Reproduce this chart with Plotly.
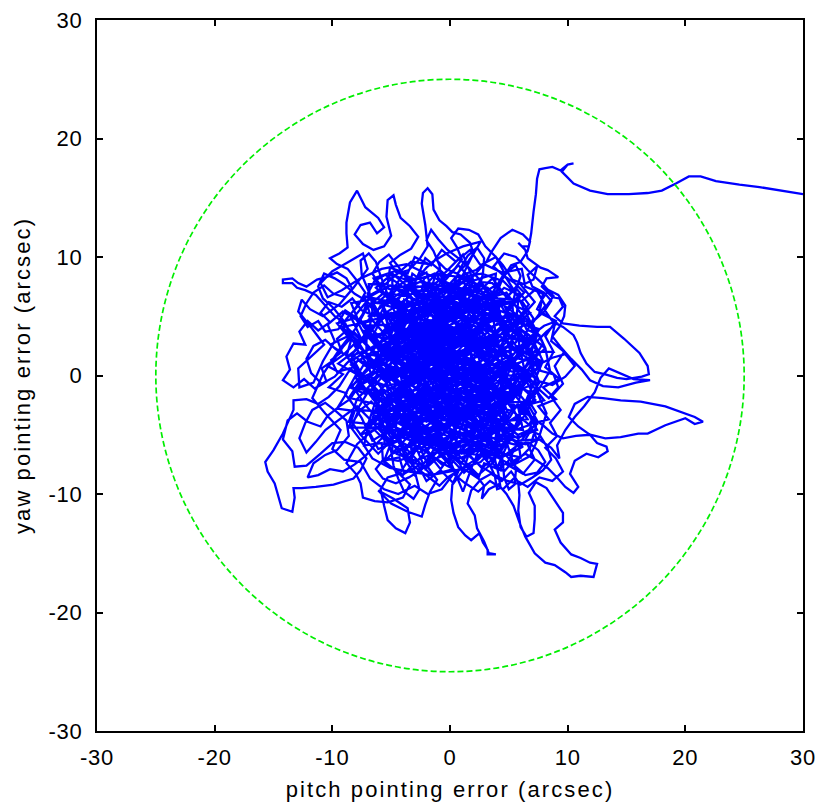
import plotly.graph_objects as go

# Boundary circle radius (arcsec)
limit_radius = 25

# Axis ticks
tick_values = [-30, -20, -10, 0, 10, 20, 30]
tick_labels = ["-30", "-20", "-10", "0", "10", "20", "30"]

# Pointing-error trajectory, in pieces (pitch, yaw) in arcsec
seg_tail = [(30.0,15.3),(28.2,15.6),(26.3,15.9),(24.6,16.1),(22.6,16.4),(21.3,16.8),(20.3,16.8),(19.2,16.2),(18.0,15.6),(16.8,15.4),(15.2,15.3),(13.4,15.3),(11.9,15.6),(10.5,16.2),(9.5,17.2),(10.0,17.8),(10.5,17.9),(10.0,17.8),(9.4,17.3),(8.7,17.6),(8.1,17.5),(7.6,17.4),(7.4,16.6),(7.3,15.3),(7.1,13.8),(6.9,12.0),(6.7,10.9),(6.1,10.9),(5.8,11.2),(6.4,10.6),(6.6,9.9),(7.2,9.5),(7.7,9.1),(8.3,8.9),(9.2,8.3),(8.2,8.2),(7.8,7.5),(8.7,6.6),(9.3,6.5),(9.6,5.8),(8.9,5.0),(9.6,4.4),(11.0,4.2),(12.5,4.1),(13.6,4.1),(14.8,3.1),(16.1,1.9),(16.8,0.8),(16.9,0.1),(16.3,-0.1),(15.0,-0.3),(14.2,-0.2),(13.2,0.1),(12.3,0.3),(11.6,1.0),(11.1,1.9),(10.8,2.8),(10.5,3.4),(9.6,4.1),(8.8,4.5),(8.0,4.2),(7.2,3.6)]

seg_core1 = [(6.3,2.8),(5.1,3.2),(4.4,2.4),(3.2,2.9),(2.6,4.0),(1.5,3.6),(0.9,2.5),(-0.3,2.9),(-1.1,3.9),(-2.2,3.4),(-2.6,2.2),(-3.7,2.6),(-4.1,3.8),(-5.0,4.5),(-5.8,3.6),(-5.3,2.5),(-6.1,1.6),(-7.2,1.9),(-7.9,3.0),(-8.8,3.8),(-9.6,3.1),(-9.2,2.0),(-10.1,1.3),(-9.6,0.3),(-8.5,0.6),(-7.6,-0.2),(-6.4,0.3),(-5.5,-0.5),(-4.4,-0.1),(-3.5,0.8),(-2.4,0.4),(-1.3,1.1),(-0.2,0.6),(0.7,1.5),(1.9,1.1),(2.4,0.0),(3.5,-0.4),(4.2,0.6),(5.4,0.3),(6.0,-0.8),(5.2,-1.8),(4.0,-1.5),(3.1,-2.4),(1.9,-2.0),(1.1,-1.0),(-0.1,-1.4),(-0.8,-2.5),(-2.0,-2.2),(-2.8,-1.2),(-4.0,-1.6),(-4.6,-2.8),(-5.8,-3.1),(-6.7,-2.2),(-7.6,-2.9),(-8.3,-4.0),(-7.6,-5.0),(-6.4,-4.6),(-5.5,-5.5),(-4.3,-5.1),(-3.6,-4.0),(-2.4,-4.3),(-1.8,-5.4),(-0.6,-5.0),(0.0,-3.9),(1.2,-4.2),(1.9,-5.3),(3.1,-5.0),(3.6,-3.8),(4.8,-3.6),(5.5,-4.6),(6.7,-4.2),(7.3,-3.1),(6.6,-2.0),(7.5,-1.1),(8.4,-1.9),(9.2,-1.0),(8.8,0.1),(7.7,0.4),(7.2,1.5),(8.1,2.3),(7.6,3.4),(6.5,3.9),(6.0,5.0),(4.9,5.3),(4.4,6.4),(3.2,6.1),(2.6,7.2),(1.4,6.9),(0.9,5.8),(-0.3,5.4),(-0.9,6.5),(-2.1,6.8),(-2.7,5.7),(-3.9,5.4),(-4.6,6.4),(-5.8,6.1),(-6.4,5.0),(-7.5,5.5),(-8.3,6.5),(-9.2,5.8),(-10.3,6.2),(-11.0,5.3),(-10.2,4.5),(-11.2,3.8),(-12.1,4.6),(-12.8,3.7),(-12.3,2.6),(-13.3,2.7),(-13.9,1.6),(-13.6,0.5),(-14.2,-0.4),(-13.3,-1.0),(-12.4,-0.3),(-11.5,-1.1),(-10.5,-0.5),(-10.9,0.6),(-9.9,1.3)]

seg_top = [(-9.1,2.4),(-8.4,3.2),(-8.9,4.4),(-9.8,5.0),(-10.6,5.9),(-11.4,6.8),(-12.3,7.2),(-13.0,7.4),(-13.4,7.8),(-14.2,7.8),(-14.2,8.1),(-13.4,8.2),(-12.9,7.8),(-12.2,7.5),(-11.3,8.1),(-10.5,8.3),(-9.6,8.7),(-8.8,8.2),(-8.3,7.3),(-8.9,6.6),(-9.9,6.9),(-10.7,7.6),(-11.6,7.0),(-12.2,6.1),(-12.7,5.0),(-12.1,4.1),(-11.2,4.6),(-10.6,3.7),(-9.5,3.9),(-8.7,4.9),(-7.8,5.9),(-7.2,7.0),(-7.9,8.0),(-8.7,9.0),(-9.6,9.4),(-10.2,9.9),(-9.4,10.3),(-8.7,10.8),(-8.8,12.0),(-8.8,12.9),(-8.5,14.6),(-7.9,15.6),(-7.2,14.2),(-6.1,13.3),(-5.6,12.5),(-6.2,12.0),(-6.8,12.9),(-7.6,12.7),(-8.1,11.9),(-7.4,11.1),(-6.5,10.6),(-5.6,10.9),(-5.0,11.8),(-5.4,13.4),(-5.3,14.8),(-4.8,15.2),(-4.6,14.4),(-4.2,13.3),(-3.4,12.6),(-2.7,11.7),(-3.3,10.7),(-4.2,10.2),(-5.1,9.5),(-4.5,8.6),(-3.5,8.9),(-2.6,9.8),(-1.9,10.9),(-2.1,12.7),(-2.4,14.5),(-2.3,15.4),(-1.9,15.8),(-1.5,15.3),(-1.4,14.0),(-0.9,13.1),(-0.3,12.6),(0.2,12.1),(0.9,11.9),(1.7,11.2),(2.0,10.3),(1.4,9.4),(0.6,8.6),(-0.4,9.0),(-1.2,9.8),(-2.0,9.1),(-2.8,8.2),(-3.9,7.9),(-4.9,7.2),(-5.9,7.6),(-6.6,8.6),(-6.0,9.6),(-5.2,10.2),(-4.4,9.2),(-3.6,8.0),(-2.9,7.0),(-1.8,7.4),(-0.8,8.1),(0.3,7.6),(1.1,8.5),(2.2,8.9),(3.1,9.6),(3.5,10.4),(4.3,11.6),(5.3,12.3),(6.2,11.9),(6.8,11.3),(6.6,10.5),(6.0,9.6),(5.2,9.3),(4.6,8.4),(5.5,7.8),(6.3,7.0),(5.6,6.2),(4.5,6.9),(3.6,7.8),(2.5,7.9),(1.8,7.0),(0.8,6.6),(-0.1,7.2),(-1.0,6.4),(-1.6,5.3),(-2.7,4.8),(-3.4,3.6),(-2.9,2.6),(-1.8,2.8),(-0.8,2.0),(0.4,2.6),(1.1,3.7),(2.2,4.5),(3.4,4.2),(4.0,3.1),(3.5,1.8),(2.3,1.7),(1.3,0.8),(0.2,1.2),(-0.6,0.2),(-1.7,0.5),(-2.5,1.5),(-3.5,1.9),(-4.4,1.0),(-5.4,1.4),(-6.0,2.6),(-6.9,3.4),(-6.3,4.3),(-5.2,5.2),(-4.1,5.0),(-3.0,4.6)]

seg_bottom = [(-3.8,3.0),(-4.9,2.2),(-5.9,1.0),(-6.9,0.6),(-7.8,1.3),(-8.7,0.2),(-9.4,-0.9),(-10.3,-1.8),(-11.2,-2.4),(-12.2,-2.0),(-13.3,-2.1),(-13.3,-2.9),(-14.2,-4.9),(-15.0,-6.3),(-15.7,-7.3),(-15.5,-8.1),(-14.9,-9.1),(-14.6,-10.2),(-14.3,-11.2),(-13.4,-11.5),(-13.2,-10.3),(-13.3,-9.5),(-12.6,-9.5),(-11.4,-9.4),(-9.9,-9.2),(-8.2,-8.7),(-7.6,-8.0),(-7.1,-7.0),(-7.8,-6.1),(-8.9,-5.6),(-10.0,-5.7),(-11.0,-6.6),(-12.2,-7.6),(-13.2,-7.7),(-13.4,-6.4),(-14.2,-5.4),(-13.8,-3.8),(-13.0,-3.2),(-12.1,-3.9),(-11.0,-4.3),(-10.4,-3.4),(-9.4,-2.6),(-8.5,-2.0),(-7.9,-1.1),(-6.8,-1.3),(-5.9,-2.1),(-5.1,-3.2),(-5.8,-4.2),(-6.9,-4.9),(-7.9,-5.8),(-8.8,-7.4),(-8.0,-8.3),(-7.6,-9.1),(-7.4,-10.3),(-6.4,-10.6),(-5.3,-10.7),(-4.0,-10.3),(-3.4,-9.2),(-4.3,-8.3),(-5.3,-8.6),(-5.9,-9.6),(-5.6,-11.0),(-5.3,-12.2),(-4.6,-12.9),(-3.8,-13.3),(-3.4,-12.4),(-3.6,-11.2),(-4.8,-10.4),(-6.1,-9.7),(-5.0,-10.8),(-3.6,-11.5),(-2.4,-11.9),(-2.1,-10.9),(-1.7,-9.8),(-1.1,-8.8),(-1.9,-7.7),(-3.0,-7.4),(-4.0,-6.7),(-3.4,-5.6),(-2.4,-6.2),(-1.3,-6.9),(-0.3,-7.6),(0.7,-8.1),(0.2,-9.2),(0.1,-10.5),(0.3,-11.6),(0.7,-12.8),(1.3,-13.5),(1.8,-13.9),(2.5,-13.3),(2.8,-14.1),(3.2,-14.7),(3.2,-15.1),(3.9,-15.1),(3.3,-15.0),(2.9,-14.0),(2.3,-12.9),(2.1,-11.8),(1.5,-10.8),(1.8,-9.7),(2.6,-8.8),(3.5,-8.3),(4.4,-8.9),(5.2,-8.1),(5.8,-9.0),(5.9,-10.1),(5.8,-11.4),(6.0,-12.8),(6.5,-13.6),(7.1,-13.3),(7.2,-12.1),(7.2,-11.0),(6.7,-9.9),(7.3,-9.0),(8.2,-9.5),(8.9,-10.5),(9.6,-11.6),(9.6,-12.4),(8.9,-13.0),(9.4,-14.1),(10.3,-15.1),(11.1,-15.4),(11.9,-15.8),(12.5,-15.9),(12.2,-17.0),(11.1,-16.9),(10.3,-17.0),(9.8,-16.6),(8.9,-16.0),(8.1,-15.8),(7.2,-15.0),(6.4,-13.6),(5.9,-12.4),(5.4,-11.0),(4.8,-10.0),(4.1,-9.2),(3.3,-9.6),(2.7,-10.4),(2.9,-9.3),(2.2,-8.4),(1.3,-7.6),(0.4,-6.9),(-0.5,-6.1),(-1.5,-5.3),(-2.5,-4.6),(-3.4,-3.6),(-2.6,-2.7),(-1.5,-3.2),(-0.5,-2.6)]

seg_right = [(0.6,-3.2),(1.7,-2.7),(2.8,-3.3),(3.9,-2.6),(4.9,-2.1),(5.9,-2.8),(6.9,-3.5),(7.9,-4.2),(8.7,-4.9),(9.6,-5.3),(10.7,-5.1),(11.9,-5.0),(13.2,-5.3),(14.5,-5.2),(16.0,-4.9),(16.8,-4.9),(18.3,-4.2),(20.0,-3.6),(20.8,-4.1),(21.5,-3.9),(20.8,-3.5),(19.5,-3.0),(18.3,-2.6),(16.2,-2.2),(14.5,-2.1),(13.0,-1.9),(11.7,-1.8),(10.6,-2.4),(10.1,-3.5),(10.9,-4.3),(11.9,-5.0),(12.5,-5.7),(13.3,-6.0),(13.4,-6.4),(12.6,-6.9),(11.6,-6.6),(10.6,-7.2),(10.2,-8.3),(10.9,-9.4),(10.5,-9.9),(9.8,-9.4),(9.1,-8.6),(8.3,-7.8),(7.4,-7.2),(6.4,-6.6),(5.4,-7.2),(4.6,-8.1),(3.7,-7.5),(3.2,-6.6),(4.2,-5.9),(5.3,-5.4),(6.4,-5.8),(7.6,-5.4),(8.6,-6.1),(9.3,-7.0),(9.1,-5.9),(9.8,-4.6),(10.6,-3.5),(11.4,-2.6),(12.3,-1.4),(12.8,-0.2),(13.5,0.6),(14.6,0.1),(15.6,-0.3),(17.0,-0.4),(15.8,-0.6),(14.3,-1.0),(13.0,-0.9),(11.9,-0.4),(11.2,0.5),(10.3,1.4),(9.4,2.4),(8.7,3.3),(9.3,4.1),(9.7,5.0),(9.8,5.9),(9.2,6.8),(8.4,7.2),(7.8,6.4),(7.4,5.6),(8.3,5.0),(9.1,4.4),(8.2,3.7),(7.3,2.8),(6.5,1.8),(5.8,2.5),(5.0,2.1),(5.6,1.0),(6.6,0.3),(7.6,-0.5),(8.7,-0.8),(9.8,-0.1),(10.6,0.8),(9.8,1.8),(8.7,1.5),(7.7,1.0),(6.8,2.0)]

seg_core2 = [(6.0,3.1),(5.0,4.0),(4.1,4.9),(3.0,5.3),(2.2,6.1),(1.1,5.3),(0.2,4.4),(-0.9,3.6),(-1.9,2.6),(-2.7,1.5),(-3.2,0.3),(-2.5,-0.8),(-1.4,-0.3),(-0.4,-0.9),(0.6,-0.2),(1.6,0.5),(2.7,0.4),(3.3,1.5),(2.9,2.7),(1.9,3.1),(0.8,3.4),(-0.3,3.9),(-1.4,4.8),(-2.0,5.9),(-3.1,6.4),(-3.8,7.3),(-4.6,7.9),(-5.5,8.5),(-6.4,8.0),(-7.0,6.9),(-6.2,6.1),(-5.3,6.9),(-4.4,6.3),(-3.6,5.1),(-3.0,4.0),(-2.3,3.0),(-1.2,2.3),(0.0,1.9),(1.0,1.0),(1.6,-0.2),(1.1,-1.5),(0.0,-2.1),(-1.1,-1.8),(-2.0,-0.9),(-3.1,-0.3),(-4.2,0.3),(-5.2,0.9),(-6.3,1.2),(-7.4,0.8),(-8.0,-0.2),(-7.3,-1.3),(-6.2,-1.8),(-5.1,-1.1),(-4.0,-0.6),(-2.9,0.6),(-1.9,1.7),(-0.8,2.9),(0.3,3.7),(1.2,4.7),(0.4,5.7),(-0.6,4.8),(-1.6,3.8),(-2.6,2.9),(-3.4,1.8),(-4.3,2.4),(-5.1,3.3),(-4.6,4.3),(-3.5,4.5),(-2.4,4.0),(-1.5,3.1),(-0.7,1.9),(0.1,0.8),(0.9,-0.2),(2.0,-0.8),(3.1,-1.2),(4.1,-2.0),(4.6,-3.0),(3.7,-3.6),(2.6,-3.1),(1.6,-2.5),(0.6,-2.9),(-0.4,-3.5),(-1.4,-3.1),(-2.3,-2.4),(-3.3,-1.9),(-4.3,-2.5),(-5.1,-3.6),(-4.5,-4.6),(-3.4,-4.9),(-2.6,-5.8),(-3.2,-6.8),(-4.4,-7.2),(-5.6,-7.0),(-6.3,-7.9),(-5.7,-8.7),(-4.6,-9.1),(-3.5,-8.6),(-2.5,-8.0),(-1.6,-7.2),(-0.5,-6.7),(0.6,-6.1),(1.7,-5.6),(2.6,-6.4),(3.6,-7.0),(4.7,-6.7),(5.6,-6.0),(6.6,-5.6),(7.5,-6.3),(8.1,-7.3),(7.4,-8.2),(6.4,-8.4),(5.6,-7.7),(4.9,-6.9),(3.9,-6.0),(3.0,-5.2),(2.1,-4.3),(1.0,-3.7),(-0.1,-3.1),(-1.0,-2.2),(-1.9,-1.3),(-2.8,-0.3),(-3.6,0.7),(-4.5,1.6),(-5.3,2.7),(-6.2,3.5),(-7.1,4.2),(-8.0,4.9),(-8.9,5.5),(-9.4,4.6),(-8.6,3.9),(-7.8,3.2),(-6.9,2.4),(-6.0,1.7),(-5.0,0.2),(-4.1,-0.8),(-3.2,-1.7),(-2.3,-2.8),(-1.4,-3.8),(-0.5,-4.7),(0.5,-5.2),(1.6,-4.8),(2.4,-3.9),(3.3,-3.1),(4.2,-2.4),(5.1,-1.4),(5.9,-0.2),(6.6,1.1),(7.3,2.2),(6.7,3.0),(5.7,3.5)]

seg_core3 = [(4.7,4.4),(3.9,5.7),(3.3,7.0),(2.4,8.2),(1.6,9.1),(0.7,9.9),(-0.2,10.6),(-1.0,11.5),(-1.6,12.3),(-2.0,11.4),(-1.4,10.5),(-0.9,9.3),(-0.7,8.1),(-1.2,7.1),(-1.5,5.9),(-1.1,4.7),(-0.5,3.5),(-0.1,2.3),(0.5,1.1),(0.9,-0.1),(1.2,-1.3),(1.6,-2.6),(2.2,-3.6),(2.9,-4.6),(3.4,-5.8),(3.8,-7.0),(4.1,-8.2),(4.3,-9.5),(4.0,-9.6),(3.8,-8.4),(3.3,-7.4),(2.6,-6.6),(1.9,-7.6),(1.5,-8.7),(1.1,-9.8),(0.6,-8.6),(0.1,-7.4),(-0.4,-6.2),(-0.9,-5.0),(-1.4,-3.9),(-1.9,-2.7),(-2.4,-1.5),(-2.9,-0.3),(-3.3,1.0),(-3.7,2.2),(-4.1,3.4),(-4.4,4.6),(-4.9,5.8),(-5.4,7.1),(-5.9,8.4),(-6.3,9.6),(-6.9,10.3),(-7.6,9.7),(-7.5,8.5),(-7.1,7.6),(-6.7,6.6),(-6.6,5.4),(-6.8,4.2),(-7.1,3.1),(-7.1,1.9),(-6.9,0.8),(-6.6,-0.4),(-6.4,-1.6),(-6.1,-2.8),(-5.8,-4.0),(-5.4,-5.2),(-5.0,-6.4),(-4.8,-7.6),(-4.4,-8.7),(-3.9,-9.8),(-3.1,-10.4),(-2.6,-9.6),(-2.9,-8.5),(-3.2,-7.3),(-3.3,-6.1),(-2.9,-4.9),(-2.6,-3.7),(-2.1,-2.5),(-1.6,-1.3),(-1.2,0.0),(-0.9,1.3),(-0.7,2.7),(-0.5,4.0),(-0.3,5.3),(0.0,6.7),(0.4,7.9),(0.9,9.1),(1.5,10.1),(2.3,10.8),(2.9,9.9),(2.8,8.6),(2.5,7.4),(2.0,6.2),(1.5,5.0),(1.4,3.8),(1.8,2.6),(2.4,1.6),(2.8,0.4),(3.0,-0.9),(3.3,-2.1),(3.7,-3.3),(4.3,-4.4),(4.8,-5.6),(5.2,-6.8),(5.6,-8.0),(5.5,-9.2),(5.0,-9.6),(4.6,-8.6),(4.5,-7.4),(4.3,-6.1),(4.0,-4.9),(3.9,-3.6),(4.0,-2.4),(4.3,-1.1),(4.5,0.2),(4.4,1.5),(4.1,2.8),(3.8,4.0),(3.6,5.3),(3.8,6.6),(4.2,7.8),(4.9,8.8),(5.6,9.3),(6.0,8.4),(5.6,7.2),(5.3,6.0),(5.4,4.8),(5.7,3.6)]

seg_core4 = [(6.0,2.0),(6.3,0.6),(6.2,-0.9),(5.8,-2.3),(5.1,-3.5),(4.1,-4.6),(2.9,-5.4),(1.6,-5.9),(0.2,-6.0),(-1.2,-5.8),(-2.5,-5.2),(-3.7,-4.3),(-4.6,-3.1),(-5.2,-1.7),(-5.5,-0.2),(-5.4,1.3),(-5.0,2.8),(-4.3,4.1),(-3.3,5.2),(-2.1,6.0),(-0.7,6.4),(0.8,6.5),(2.2,6.1),(3.5,5.4),(4.5,4.3),(5.3,3.0),(5.1,1.6),(4.7,0.3),(4.0,-1.0),(3.0,-2.2),(1.8,-3.1),(0.4,-3.7),(-1.0,-3.8),(-2.3,-3.3),(-3.4,-2.4),(-4.0,-1.2),(-4.2,0.2),(-4.0,1.6),(-3.4,2.9),(-2.4,3.9),(-1.2,4.5),(0.1,4.6),(1.4,4.2),(2.5,3.4),(3.2,2.3),(3.4,1.0),(3.1,-0.2),(2.3,-1.2),(1.3,-1.9),(0.1,-2.2),(-1.0,-1.9),(-1.9,-1.1),(-2.5,0.0),(-2.6,1.2),(-2.2,2.3),(-1.4,3.1),(-0.4,3.4),(0.6,3.2),(1.4,2.6),(1.8,1.7),(1.7,0.7),(1.2,-0.1),(0.4,-0.6),(-0.5,-0.5),(-1.1,0.1),(-1.4,1.0),(-1.0,1.9),(-0.2,2.3),(0.6,1.8),(0.7,0.8),(-0.2,0.7)]

seg_core5 = [(0.2,1.6),(1.3,2.0),(2.4,2.8),(3.6,3.3),(4.8,3.6),(6.0,4.1),(7.1,4.6),(8.0,5.4),(8.6,6.3),(8.0,7.0),(7.0,7.5),(6.6,8.5),(7.4,9.2),(7.1,8.1),(6.3,7.7),(5.3,8.1),(4.5,9.3),(3.9,10.0),(3.0,10.9),(2.4,11.9),(1.6,12.3),(0.7,12.4),(0.1,11.6),(0.6,10.8),(1.0,9.8),(0.4,9.0),(-0.4,8.3),(-1.3,8.6),(-2.2,8.2),(-2.4,7.2),(-1.7,6.4),(-0.8,5.8),(0.2,5.2),(1.2,5.8),(2.1,5.1),(3.0,4.3),(3.9,3.6),(4.9,2.7),(5.9,1.7),(5.0,0.9),(4.0,0.2),(2.9,-0.4),(1.8,-0.9),(0.6,-1.2),(-0.8,2.6),(-1.8,3.5),(-2.9,3.1),(-3.9,2.2),(-4.8,3.1),(-5.6,4.2),(-6.2,5.4),(-7.1,6.3),(-8.1,6.9),(-9.0,7.7),(-9.8,8.2),(-10.7,8.6),(-11.2,7.5),(-10.8,6.5),(-9.9,5.7),(-9.1,4.7),(-8.4,3.6),(-7.7,2.4),(-8.6,1.6),(-9.7,2.2),(-10.6,3.0),(-11.6,2.5),(-12.2,1.4),(-11.8,0.2),(-10.9,-0.7),(-9.8,-0.1),(-8.8,1.0),(-7.8,2.0),(-6.9,1.3),(-5.8,0.4),(-4.8,-0.4),(-3.8,-1.0),(-2.8,-1.8),(-1.8,-2.5),(-0.8,-3.0)]

seg_core6 = [(-1.6,-2.2),(-2.6,-1.6),(-3.6,-2.8),(-4.6,-3.9),(-5.5,-5.0),(-6.4,-5.9),(-7.2,-6.8),(-8.1,-7.5),(-9.1,-8.1),(-10.2,-7.9),(-11.2,-8.4),(-12.1,-8.6),(-11.6,-7.4),(-10.6,-6.7),(-9.6,-6.3),(-8.6,-5.1),(-8.8,-3.8),(-9.7,-3.0),(-10.6,-2.3),(-11.7,-2.9),(-12.3,-4.0),(-12.8,-5.3),(-12.2,-6.5),(-11.4,-5.6),(-10.6,-4.6),(-9.8,-4.0),(-8.9,-3.3),(-7.9,-2.6),(-6.9,-3.6),(-6.0,-4.6),(-4.9,-5.8),(-3.9,-6.9),(-2.9,-7.8),(-1.9,-8.5),(-0.9,-9.3),(-0.2,-8.6),(0.9,-7.9),(2.0,-7.2),(3.0,-7.9),(4.0,-8.5),(4.9,-8.9),(6.0,-9.2),(7.0,-8.6),(7.9,-8.0),(8.6,-7.1),(8.3,-6.1),(7.6,-5.0),(6.7,-4.6),(5.8,-5.0),(4.7,-4.4),(3.6,-4.9),(2.5,-5.5),(1.3,-6.3),(0.2,-7.0),(-0.7,-7.5),(-1.7,-6.6),(-2.5,-5.5),(-3.2,-4.4),(-3.9,-3.2),(-4.6,-2.1),(-5.2,-1.0),(-5.9,0.2)]

seg_core7 = [(-0.2,0.7),(1.8,1.9),(0.9,3.8),(-1.2,4.4),(-2.9,3.2),(-4.6,4.1),(-3.8,6.0),(-1.9,6.9),(-0.4,5.6),(1.4,6.3),(2.9,5.0),(2.1,3.1),(3.8,2.0),(5.6,2.8),(6.3,4.7),(4.6,5.9),(3.2,7.4),(1.3,8.0),(-0.6,7.2),(-2.4,8.0),(-4.1,7.1),(-5.7,5.9),(-4.8,4.1),(-6.5,3.0),(-7.6,4.7),(-6.9,6.6),(-5.1,7.6),(-3.3,6.5),(-2.4,4.7),(-3.6,3.1),(-2.1,1.8),(-0.3,2.6),(1.5,1.4),(3.1,0.4),(4.9,1.3),(6.6,0.2),(5.8,-1.7),(3.9,-1.1),(2.5,-2.6),(0.7,-1.7),(-1.2,-0.8),(-3.0,-1.9),(-4.8,-1.0),(-6.6,-1.9),(-7.8,-0.3),(-6.3,1.1),(-4.5,0.5),(-2.8,1.2),(-1.1,-0.2),(0.4,-2.8),(2.1,-4.0),(4.0,-3.2),(5.6,-4.4),(4.7,-6.0),(2.8,-5.5),(1.0,-6.6),(-0.9,-5.6),(-2.6,-6.5),(-4.3,-5.5),(-6.1,-6.2),(-7.0,-4.5),(-5.6,-3.1),(-3.7,-3.6),(-1.9,-2.8),(0.0,-3.9),(1.6,-2.6),(3.3,-1.8),(5.0,-0.6),(6.8,-1.4),(7.6,0.6),(6.0,1.9),(4.3,3.3),(2.6,4.4),(0.6,4.9),(-1.3,5.7),(-3.1,4.7),(-5.0,5.3),(-6.6,4.1),(-8.1,2.5),(-7.0,0.9),(-5.2,2.0),(-3.5,0.6),(-1.7,1.5),(0.0,0.3),(1.9,0.1),(3.5,-1.0),(2.2,-2.3),(0.3,-1.4),(-1.6,-2.0),(-3.3,-0.8),(-5.1,-2.3),(-6.4,-4.0),(-4.8,-4.6),(-3.1,-5.3),(-1.5,-4.3),(0.3,-5.0),(2.2,-4.6),(3.9,-5.4),(5.8,-5.9),(6.9,-4.3),(5.3,-3.0),(3.5,-2.5),(1.6,-0.9),(-0.3,0.8),(-2.2,2.8),(-4.0,2.1),(-5.9,1.3),(-7.3,2.9),(-6.1,4.7),(-4.3,5.5),(-2.5,6.3),(-0.7,7.1),(1.2,6.9),(3.0,6.4),(4.8,7.0),(5.9,5.4),(7.3,3.9),(6.5,2.1),(4.6,1.0),(2.8,1.9),(1.0,2.8),(-0.8,3.3),(-2.7,3.9),(-4.1,2.7),(-5.5,3.8),(-4.0,4.9),(-2.2,4.3),(-0.5,4.1),(1.3,3.4),(3.0,3.0),(4.7,2.0),(5.5,0.3),(4.2,-1.6),(2.3,-1.2),(0.4,-0.6),(-1.5,0.6),(-3.4,-0.1),(-5.1,0.7),(-6.9,-0.6),(-5.8,-2.1),(-3.9,-2.2),(-2.1,-1.3),(-0.3,-2.2),(1.5,-3.3),(3.0,-4.4),(1.3,-5.0),(-0.6,-4.3),(-2.4,-3.6),(-4.0,-2.8),(-5.3,-4.1),(-3.6,-4.8),(-1.7,-5.5),(0.1,-6.6),(2.0,-6.2),(3.8,-6.8),(5.3,-7.6),(6.8,-6.8),(7.6,-5.1),(8.2,-3.2),(7.4,-1.4),(8.5,0.4),(8.1,2.3),(6.6,3.5),(5.1,4.5),(3.6,4.6),(1.9,5.6),(0.2,6.2),(-1.7,5.3),(-3.5,5.9),(-5.4,6.7),(-6.5,8.2),(-4.7,8.8),(-2.9,8.1),(-1.1,8.6),(0.8,8.3),(2.7,8.6),(4.4,8.0),(3.7,6.3),(2.3,5.0),(0.6,4.1),(-1.2,2.9),(-3.0,2.4),(-4.8,3.4),(-6.6,2.4),(-8.4,1.2),(-7.3,-0.4),(-5.5,-0.9),(-3.7,-0.5),(-1.9,0.4),(0.0,1.2),(1.8,2.2),(3.6,2.7),(5.3,1.8),(3.7,0.9),(1.9,0.9),(0.1,-0.5),(-1.8,-1.3),(-3.6,-2.9),(-2.0,-3.9),(-0.2,-3.0),(1.6,-4.1),(3.4,-3.6),(4.9,-2.3),(3.5,-0.3),(1.6,0.9),(-0.3,1.8),(-2.1,0.9),(-3.9,1.4),(-5.7,2.6),(-4.2,3.5),(-2.4,2.2),(-0.6,1.4)]

seg_core8 = [(-1.4,3.3),(-0.4,5.0),(-1.8,6.4),(-3.2,5.0),(-2.6,3.1),(-3.8,1.5),(-3.0,-0.3),(-4.3,-1.8),(-3.3,-3.5),(-4.5,-5.0),(-3.8,-6.9),(-2.3,-5.6),(-1.0,-4.0),(-1.9,-2.3),(-0.8,-0.8),(0.4,0.8),(-0.5,2.5),(0.6,4.3),(1.9,2.8),(1.1,1.0),(2.3,-0.6),(1.4,-2.2),(2.7,-3.7),(1.8,-5.5),(3.2,-7.0),(4.0,-5.2),(4.8,-3.4),(3.9,-1.6),(4.9,0.0),(3.9,1.7),(4.8,3.4),(3.7,5.1),(4.8,6.6),(3.6,8.2),(2.2,6.8),(2.9,5.0),(1.8,3.4),(2.9,1.7),(2.0,0.0),(3.1,-1.6),(2.4,-3.4),(3.5,-5.1),(2.6,-6.9),(1.2,-8.2),(0.3,-6.4),(-0.8,-7.9),(-2.0,-6.4),(-1.1,-4.6),(-2.3,-3.1),(-1.4,-1.4),(-2.6,0.3),(-1.5,2.0),(-2.5,3.7),(-1.6,5.5),(-2.8,7.1),(-3.9,8.7),(-5.0,7.0),(-4.1,5.3),(-5.3,3.6),(-4.4,1.9),(-5.6,0.3),(-4.7,-1.4),(-6.0,-2.9),(-5.1,-4.6),(-6.6,-5.5),(-7.5,-3.6),(-8.6,-1.9),(-7.4,-0.1),(-8.4,1.7),(-7.2,3.3),(-8.1,5.0),(-6.8,6.6),(-5.8,4.8),(-6.7,3.1),(-5.5,1.5),(-6.4,-0.3),(-5.2,-1.9),(-6.1,-3.7),(-4.9,-5.4),(-5.6,-7.2),(-4.3,-8.3),(-3.2,-6.6),(-2.6,-4.7),(-3.4,-2.8),(-2.2,-1.0),(-3.3,0.7),(-2.1,2.5),(-3.2,4.2),(-2.3,5.9),(-1.0,7.4),(0.1,5.7),(-0.9,4.0),(0.2,2.3),(-0.8,0.6),(0.3,-1.1),(-0.6,-2.9),(0.5,-4.6),(-0.4,-6.3),(0.9,-7.5),(2.0,-5.8),(1.1,-4.0),(2.1,-2.4),(1.2,-0.6),(2.2,1.1),(1.1,2.7),(2.1,4.5),(1.0,6.2),(2.0,7.9),(0.7,9.3),(-0.6,7.8),(0.5,6.1),(-0.7,4.5),(0.4,2.8),(-0.7,1.1),(0.5,-0.5),(-0.6,-2.2),(0.7,-3.9),(-0.3,-5.6),(1.0,-7.0),(2.4,-8.4),(3.7,-7.3),(4.6,-5.6),(5.9,-4.1),(5.2,-2.3),(6.2,-0.6),(5.3,1.1),(6.4,2.7),(5.5,4.4),(6.7,6.0),(5.6,7.4),(4.3,6.0),(5.3,4.2),(4.3,2.5),(5.3,0.9),(4.4,-0.9),(5.4,-2.6),(4.4,-4.3),(5.7,-5.8),(4.8,-7.5),(6.2,-8.3),(7.2,-7.1),(6.4,-5.4),(7.4,-3.8),(6.5,-2.2),(7.6,-0.6),(6.9,1.1),(7.9,2.7),(7.0,4.4),(8.1,5.9),(7.3,7.3),(6.1,6.3),(7.1,4.8),(6.2,3.1),(7.2,1.5),(6.3,-0.1),(7.2,-1.8),(6.3,-3.4),(5.2,-5.0),(4.2,-6.6),(3.1,-5.2),(3.9,-3.4),(2.9,-1.8),(3.8,-0.1),(2.9,1.6),(3.8,3.3),(3.0,4.9),(1.6,6.0),(0.3,7.6),(-1.1,6.3),(-0.2,4.7),(-1.3,3.1),(-0.4,1.5),(-1.5,-0.1),(-0.5,-1.8),(-1.6,-3.5),(-0.7,-5.2),(-1.8,-6.9),(-3.0,-8.4),(-4.0,-6.8),(-3.1,-5.1),(-4.1,-3.4),(-3.0,-1.7),(-4.0,-0.1),(-2.9,1.6),(-4.0,3.2),(-3.1,4.9),(-4.4,6.4),(-3.4,7.9),(-2.0,8.7),(-1.5,7.0),(-2.5,5.4),(-1.4,3.8),(-2.3,2.1),(-1.2,0.5),(-2.2,-1.2),(-1.1,-2.9),(-2.1,-4.6),(-0.9,-6.2),(0.2,-4.6)]

seg_core9 = [(-1.6,-3.4),(-3.3,-4.1),(-4.9,-2.7),(-3.0,-1.6),(-1.2,-2.4),(0.7,-1.6),(2.5,-2.9),(4.2,-1.7),(2.6,-0.4),(0.8,0.5),(-1.0,-0.3),(-2.9,0.7),(-4.7,-0.2),(-6.2,1.0),(-4.6,2.2),(-2.8,1.6),(-1.0,2.4),(0.9,1.6),(2.6,2.5),(4.4,1.6),(2.7,3.6),(0.9,2.9),(-1.0,3.9),(-2.9,3.1),(-4.6,3.9),(-3.0,5.0),(-1.1,4.3),(0.8,5.1),(2.6,4.2),(4.3,5.3),(2.5,6.0),(0.6,5.9),(-1.3,6.5),(-3.1,5.9),(-4.9,6.2),(-3.3,7.3),(-1.4,7.8),(0.4,7.0),(2.2,7.6),(3.6,6.2),(1.9,5.5),(0.0,4.8),(-1.9,5.1),(-3.7,4.4),(-5.4,4.8),(-6.9,5.9),(-5.6,7.0),(-3.9,6.7),(-2.1,7.2),(-0.3,6.5),(1.5,7.2),(3.4,5.8),(5.1,6.1),(6.8,5.3),(5.3,4.0),(3.5,3.7),(1.7,4.3),(-0.2,3.5),(-2.0,4.6),(-3.9,3.7),(-5.7,3.1),(-7.4,3.8),(-6.0,2.1),(-4.2,1.2),(-2.4,2.0),(-0.6,1.0),(1.3,2.0),(3.1,1.3),(4.9,2.4),(6.6,1.5),(5.0,0.5),(3.2,-0.4),(1.4,0.4),(-0.4,-0.5),(-2.3,0.2),(-4.1,-0.7),(-5.9,0.1),(-7.6,-0.8),(-6.1,-2.1),(-4.3,-1.5),(-2.5,-2.4),(-0.7,-1.4),(1.2,-2.1),(3.0,-1.3),(4.8,-2.3),(6.4,-3.0),(4.8,-4.0),(3.0,-3.2),(1.1,-3.8),(-0.7,-3.0),(-2.5,-3.9),(-4.3,-3.2),(-6.0,-4.0),(-4.5,-5.2),(-2.7,-4.7),(-0.9,-5.5),(0.9,-4.8),(2.7,-5.6),(4.6,-5.0),(6.2,-6.0),(4.4,-6.9),(2.6,-6.2),(0.8,-7.0),(-1.0,-6.4),(-2.9,-7.2),(-4.6,-6.6),(-3.1,-5.6),(-1.3,-4.9),(0.5,-3.9),(2.3,-4.5),(3.8,-2.8),(2.0,-2.0),(0.2,-2.7),(-1.6,-1.9),(-3.4,-2.6),(-5.1,-1.9),(-3.5,-0.9),(-1.7,-0.1),(0.1,-1.0),(1.9,-0.2),(3.7,0.3),(2.0,1.2),(0.2,0.4),(-1.6,1.3),(-3.5,0.6),(-5.2,1.6),(-3.6,2.8),(-1.8,2.2),(0.0,3.0),(1.8,3.8),(3.6,4.6),(2.0,5.4),(0.2,6.2),(-1.6,5.6),(-0.2,4.1),(-2.1,3.5),(-0.3,2.1),(1.5,2.9),(-0.4,1.8)]

seg_core10 = [(-2.6,3.9),(-4.4,5.8),(-6.3,7.4),(-4.9,8.6),(-3.0,7.0),(-1.1,5.2),(0.9,3.3),(2.8,1.4),(4.6,-0.6),(6.3,-2.6),(7.4,-4.6),(5.9,-5.2),(4.2,-3.4),(2.4,-1.4),(0.5,0.6),(-1.4,2.5),(-3.3,4.4),(-5.1,6.3),(-6.9,5.0),(-5.2,3.1),(-3.3,1.2),(-1.4,-0.8),(0.5,-2.8),(2.4,-4.8),(4.1,-6.7),(2.7,-7.8),(0.9,-5.9),(-1.0,-3.9),(-2.9,-2.0),(-4.8,0.0),(-6.6,2.0),(-8.2,3.7),(-8.8,1.6),(-7.1,-0.3),(-5.2,-2.2),(-3.3,-4.2),(-1.4,-6.1),(0.3,-7.9),(-1.6,-8.4),(-3.4,-6.5),(-5.3,-4.6),(-7.1,-2.6),(-8.3,-0.9),(-6.8,0.9),(-4.9,2.7),(-3.0,4.6),(-1.1,6.6),(0.7,8.5),(2.5,7.6),(0.8,5.6),(-1.0,3.7),(-2.9,1.8),(-4.8,-0.1),(-6.6,-1.9),(-5.1,-3.8),(-3.2,-1.9),(-1.3,0.1),(0.6,2.0),(2.5,4.0),(4.3,6.0),(5.9,7.8),(7.2,6.2),(5.5,4.3),(3.7,2.3),(1.8,0.3),(-0.1,-1.7),(-2.0,-3.6),(-3.9,-5.5),(-5.6,-7.3),(-4.0,-8.4),(-2.2,-6.6),(-0.3,-4.6),(1.6,-2.7),(3.5,-0.7),(5.4,1.3),(7.0,3.1),(7.9,1.2),(6.3,-0.8),(4.4,-2.8),(2.6,-4.7),(0.7,-6.6),(-1.1,-5.0),(0.8,-3.1),(2.7,-1.1),(4.6,0.9),(6.4,2.9),(5.2,5.0),(3.3,3.1),(1.4,1.1),(-0.5,-0.9),(-2.4,-2.8),(-4.3,-4.8),(-6.1,-6.6),(-7.6,-5.0),(-5.8,-3.1),(-3.9,-1.1),(-2.0,0.9),(-0.2,2.8),(1.7,4.8),(3.5,6.8),(4.6,8.6),(2.9,9.4),(1.3,7.6),(-0.6,5.6),(-2.5,3.6),(-4.3,1.7),(-6.2,-0.2),(-7.9,-2.0),(-8.6,-3.9),(-6.9,-4.1),(-5.0,-2.2),(-3.1,-0.2),(-1.2,1.7),(0.6,3.6),(2.4,5.5),(4.1,7.2)]

seg_core11 = [(2.7,6.0),(0.6,6.8),(-1.3,5.9),(-3.5,6.6),(-5.3,5.4),(-4.1,3.6),(-5.9,2.2),(-4.4,0.6),(-5.8,-1.1),(-4.0,-2.2),(-5.3,-3.9),(-3.6,-5.1),(-1.6,-4.4),(0.3,-5.4),(2.2,-4.4),(3.8,-5.7),(5.4,-4.4),(4.2,-2.8),(5.7,-1.3),(4.5,0.3),(6.0,1.7),(4.6,3.2),(5.7,4.9),(3.9,5.6),(2.2,4.6),(0.4,5.3),(-1.4,4.3),(-3.2,5.1),(-4.9,4.1),(-3.4,2.8),(-5.0,1.5),(-3.3,0.2),(-4.6,-1.3),(-2.9,-2.6),(-1.0,-1.8),(0.8,-2.8),(2.6,-1.9),(3.9,-3.5),(2.1,-4.6),(0.2,-3.7),(-1.6,-4.8),(-3.2,-3.3),(-1.6,-1.9),(0.2,-0.8),(2.1,-0.1),(3.8,1.3),(2.2,2.6),(0.3,1.8),(-1.5,2.9),(-3.4,2.0),(-2.0,0.4),(-0.2,-0.6),(1.6,0.6),(3.3,-0.4),(4.9,-1.8),(6.2,-0.3),(5.0,1.4),(3.3,2.4),(1.6,3.6),(-0.2,2.7),(-2.0,3.7),(-3.7,4.7),(-2.0,5.8),(-0.2,4.9),(1.7,5.8),(3.3,4.7),(1.6,3.6),(-0.1,4.0),(-1.8,1.8),(-3.6,1.0),(-1.8,-0.8),(0.0,0.2),(1.8,-1.6),(0.1,-2.6),(-1.9,-3.2),(-3.8,-2.4),(-5.6,-3.0),(-6.9,-1.5),(-5.6,0.1),(-7.0,1.6),(-5.7,3.1),(-7.3,4.3),(-5.9,5.8),(-4.4,7.4),(-2.5,7.9),(-0.7,7.0),(1.1,7.8),(2.9,7.0),(4.5,8.0),(5.9,6.6),(4.6,5.0),(6.3,3.6),(7.5,2.0),(6.2,0.4),(7.6,-1.2),(6.2,-2.6),(7.4,-4.1),(5.8,-5.3),(4.0,-4.4),(2.3,-5.8),(0.5,-4.8),(-1.3,-5.9),(-3.1,-4.5),(-4.8,-5.7),(-6.2,-4.4),(-4.6,-3.1),(-2.8,-3.9),(-1.0,-2.9),(0.8,-3.9),(2.6,-3.0),(4.3,-2.0),(3.1,-0.4),(1.3,-0.1),(-0.5,1.0),(-2.3,0.1),(-4.1,1.2),(-2.6,2.6),(-0.8,1.8),(1.0,2.9),(2.8,3.8),(1.0,4.7),(-0.8,3.9),(-2.6,4.8),(-1.0,6.0),(0.9,6.1),(2.6,5.2)]

seg_core12 = [(1.8,5.9),(-0.9,6.3),(-3.4,5.4),(-5.8,6.0),(-4.6,3.6),(-6.2,1.4),(-3.9,0.1),(-1.4,1.0),(1.1,0.0),(3.5,1.2),(5.2,-0.9),(2.9,-2.1),(0.4,-1.3),(-2.1,-2.4),(-4.5,-1.2),(-6.3,-3.0),(-3.9,-4.3),(-1.3,-3.4),(1.2,-4.5),(3.6,-3.6),(5.3,-5.1),(2.9,-5.9),(0.3,-5.1),(-2.3,-5.8),(-4.8,-5.0),(-5.9,-2.6),(-3.4,-1.6),(-0.9,-2.3),(1.7,-1.9),(4.0,-0.6),(5.6,1.4),(3.2,2.4),(0.7,1.8),(-1.8,2.5),(-4.3,1.9),(-5.6,4.3),(-3.1,3.6),(-0.6,4.3),(1.9,3.6),(4.4,4.4),(5.3,6.4),(2.8,6.6),(0.2,7.4),(-2.4,7.1),(-4.8,7.6),(-5.9,5.2),(-3.7,4.6),(-1.2,5.5),(1.3,4.7),(3.8,5.4),(4.8,3.0),(2.5,2.9),(0.0,3.3),(-2.5,3.9),(-4.9,3.0),(-6.4,0.6),(-4.2,-0.6),(-1.7,0.1),(0.8,-0.7),(3.2,0.3),(5.7,-0.1),(4.5,-2.5),(2.1,-3.0),(-0.4,-3.7),(-2.9,-3.1),(-5.3,-4.0),(-4.1,-6.1),(-1.6,-5.2),(0.9,-6.0),(3.3,-4.8),(5.8,-3.5),(4.1,-1.3),(1.7,-0.4),(-0.8,0.4),(-3.3,-0.3),(-5.6,0.9),(-3.8,2.7),(-1.3,3.0),(1.2,2.5),(3.7,3.5),(2.4,5.6),(-0.1,5.4),(-2.6,6.2),(-5.1,5.1),(-3.0,2.5),(-0.5,1.6),(2.0,1.0),(4.6,2.0),(6.1,0.3),(4.7,-1.9),(2.3,-1.0),(-0.2,-1.9),(-2.7,-1.1),(-5.1,-2.1),(-6.1,-4.5),(-3.6,-5.3),(-1.1,-4.4),(1.4,-3.5),(3.9,-2.3),(2.6,-0.1),(0.1,0.9),(-2.4,1.4),(-4.8,2.5),(-3.5,4.8),(-1.0,4.6),(1.5,5.6),(4.0,6.3),(3.0,4.2),(0.5,2.8),(-2.0,3.2),(-4.4,4.2),(-2.2,5.9),(0.3,6.3),(2.8,5.3),(4.9,4.2),(3.1,1.9),(0.6,0.9),(-1.9,-0.5),(-4.4,-2.0),(-2.3,-3.9),(0.2,-2.8),(2.6,-4.1),(4.9,-4.4),(3.7,-6.0),(1.2,-5.4),(-1.3,-6.3),(-3.3,-4.6),(-1.2,-1.3),(1.3,-2.2),(3.8,-1.4),(2.2,0.5),(-0.3,-0.3),(-2.8,0.5),(-5.2,-0.1),(-4.0,1.9),(-1.5,2.2),(1.0,3.1),(3.5,2.2)]

seg_core13 = [(1.5,4.0),(-0.9,3.2),(-3.1,4.5),(-4.8,2.4),(-2.9,0.8),(-0.5,2.1),(1.8,1.4),(3.9,-0.4),(1.6,-1.4),(-0.8,-0.9),(-3.0,-2.0),(-4.9,-0.4),(-2.7,1.6),(-0.3,0.2),(2.1,-0.8),(4.3,1.0),(2.4,3.0),(0.0,4.7),(-2.4,3.6),(-4.4,5.6),(-2.0,6.5),(0.4,5.6),(2.7,6.0),(4.5,4.8),(2.9,3.4),(0.6,2.4),(-1.8,1.2),(-4.0,0.2),(-5.5,2.0),(-3.6,3.2),(-1.3,4.0),(1.0,5.0),(3.2,4.6),(1.2,3.0),(-1.1,2.0),(-3.4,1.3),(-1.7,-0.4),(0.6,-1.6),(2.9,-0.9),(4.6,-2.6),(2.4,-3.3),(0.1,-2.4),(-2.2,-3.3),(-4.2,-2.7),(-2.5,-4.6),(-0.1,-4.0),(2.2,-5.1),(4.3,-4.0),(2.5,-2.1),(0.2,-1.1),(-2.1,-1.8),(-4.3,-3.9),(-2.0,-5.0),(0.4,-5.8),(2.8,-5.2),(1.0,-3.4),(-1.3,-2.6),(-3.6,-3.4),(-5.2,-1.6),(-3.0,-0.7),(-0.7,0.9),(1.6,2.2),(3.9,3.0),(1.8,4.8),(-0.6,5.9),(-2.9,5.5),(-5.0,4.0),(-2.7,3.1),(-0.4,3.5),(2.0,2.9),(4.2,1.7),(2.0,0.4),(-0.4,-0.3),(-2.6,0.6),(-4.6,-1.2),(-2.3,-2.3),(0.0,-3.1),(2.4,-2.5),(4.0,-4.6),(1.7,-4.0),(-0.6,-4.9),(-2.9,-4.2),(-1.5,-2.2),(0.8,-1.3),(3.1,-1.9),(2.6,0.5),(0.3,1.3),(-2.0,2.7),(-4.3,3.6),(-3.2,5.8),(-0.8,4.8),(1.5,5.5),(3.6,6.5),(1.5,7.3),(-0.9,7.6),(-3.2,7.0),(-1.0,6.7),(1.3,6.6),(-0.4,5.0),(-2.3,4.3),(-0.1,3.4),(2.2,3.9),(0.9,1.6),(-1.4,0.6),(-3.7,-0.7),(-1.4,-1.6),(0.9,-2.1),(-1.2,-3.8),(-3.5,-5.0),(-1.2,-6.2),(1.0,-6.5),(3.1,-6.8)]

seg_outer2 = [(2.6,-7.3),(0.5,-8.0),(-1.6,-8.4),(-3.6,-8.1),(-5.1,-7.8),(-6.6,-7.0),(-7.5,-5.6),(-8.4,-4.4),(-7.8,-3.0),(-8.9,-1.6),(-7.9,0.2),(-8.9,1.9),(-7.6,3.2),(-8.5,5.1),(-7.5,6.4),(-6.2,7.1),(-4.8,8.3),(-3.3,9.6),(-1.8,9.4),(-0.3,10.3),(1.1,10.9),(2.6,11.3),(1.9,10.1),(0.5,7.3),(-1.6,8.4),(-3.7,9.4),(-5.8,9.0),(-7.6,8.2),(-9.2,7.2),(-10.4,6.6),(-11.0,7.8),(-10.0,8.8),(-8.6,9.6),(-7.4,10.3),(-7.0,9.0),(-8.2,7.4),(-9.4,6.0),(-10.8,5.0),(-11.9,5.6),(-12.6,6.4),(-12.9,5.4),(-11.9,4.2),(-10.7,2.6),(-11.8,1.6),(-12.9,0.6),(-12.8,-1.0),(-11.6,-0.6),(-10.8,1.2),(-9.8,2.9),(-10.4,4.3),(-9.1,5.4),(-7.8,4.6),(-7.0,5.8),(-8.0,4.0),(-9.4,2.2),(-10.8,0.1),(-11.7,-1.9),(-10.6,-3.2),(-9.3,-4.6),(-10.0,-6.2),(-9.0,-7.1),(-7.6,-7.3),(-6.8,-8.7),(-5.6,-9.6),(-4.4,-10.0),(-3.0,-9.3),(-1.9,-10.0),(-0.7,-9.6),(0.3,-8.3),(1.3,-9.1),(2.4,-9.8),(3.4,-8.9),(4.5,-9.6),(5.4,-8.7),(6.6,-9.4),(7.6,-8.6),(8.7,-8.9),(9.6,-8.1),(9.0,-7.0),(8.1,-6.1),(9.1,-5.1),(8.5,-4.0),(9.4,-2.9),(8.6,-1.8),(9.6,-0.7),(8.9,0.8),(9.7,2.0),(8.6,2.9),(8.9,4.3),(8.0,5.6),(8.8,6.7),(7.8,7.8),(6.6,8.9),(5.6,10.0),(4.6,10.3),(3.7,9.2),(4.8,8.2),(5.8,6.6),(6.6,5.0),(7.4,3.4),(6.7,1.4),(7.4,-0.9),(6.5,-2.6),(7.3,-4.3),(6.8,-6.1),(5.6,-7.3),(4.1,-7.6)]

seg_ring1 = [(7.8,1.0),(6.6,2.3),(7.6,3.9),(5.6,4.5),(5.8,6.3),(3.7,6.1),(3.9,8.6),(2.0,8.0),(1.1,10.2),(-0.5,8.6),(-2.1,9.9),(-3.0,7.8),(-4.9,8.5),(-4.9,6.2),(-7.3,6.7),(-6.6,4.6),(-9.1,4.1),(-7.8,2.3),(-9.5,1.0),(-7.4,-0.2),(-8.5,-1.9),(-6.4,-2.4),(-7.1,-4.5),(-4.9,-4.3),(-4.9,-6.6),(-3.0,-5.8),(-2.1,-7.9),(-0.5,-6.4),(1.1,-8.1),(1.9,-5.7),(4.0,-6.7),(4.0,-4.4),(6.2,-4.6),(5.8,-2.7),(8.0,-2.1),(6.5,-0.2),(7.8,1.0)]

seg_ring2 = [(5.5,1.5),(6.6,2.9),(4.6,3.4),(5.4,5.1),(3.3,4.8),(3.8,7.1),(2.0,6.3),(1.5,8.4),(0.0,6.7),(-1.2,8.6),(-1.9,6.3),(-3.6,7.7),(-3.7,5.6),(-5.9,6.4),(-5.3,4.3),(-7.4,4.2),(-6.0,2.5),(-8.3,1.7),(-6.4,0.5),(-7.8,-1.0),(-5.6,-1.4),(-6.5,-3.2),(-4.4,-2.9),(-4.7,-5.1),(-2.9,-4.2),(-2.5,-6.3),(-1.0,-4.8),(0.2,-6.5),(0.9,-4.4),(2.6,-5.6),(2.7,-3.5),(4.7,-4.2),(4.3,-2.3),(6.4,-2.2),(5.0,-0.5),(7.2,0.3)]

seg_core14 = [(4.8,0.9),(2.3,0.1),(0.1,1.5),(-2.4,0.7),(-4.6,2.1),(-2.3,3.4),(0.2,2.6),(2.6,3.8),(4.1,5.6),(1.6,6.1),(-0.8,5.0),(-3.1,6.1),(-4.9,4.9),(-3.7,2.7),(-5.4,0.6),(-3.1,-0.6),(-0.7,0.5),(1.7,-0.6),(4.0,0.4),(5.6,-1.6),(3.3,-2.7),(0.8,-2.0),(-1.6,-3.1),(-4.0,-2.3),(-5.5,-4.4),(-3.0,-5.1),(-0.5,-4.3),(1.9,-5.3),(4.3,-4.6),(2.8,-2.8),(0.4,-3.4),(-2.0,-2.0),(-4.2,-3.6),(-2.0,-4.9),(0.4,-6.0),(2.5,-4.2),(1.0,-2.5),(-1.3,-1.2),(-3.6,-1.9),(-1.7,0.4),(0.6,-0.6),(3.0,-1.0),(1.3,1.2),(-1.0,2.2),(-3.3,1.0),(-2.0,3.4),(0.4,4.0),(2.9,4.9),(1.0,6.8),(-1.4,7.4),(-3.7,7.6),(-2.0,5.6),(0.4,5.4),(2.9,6.6),(4.8,4.3),(2.7,2.4),(0.2,3.3),(-2.3,2.0),(-4.4,0.1),(-2.4,-1.4),(0.1,-1.7),(2.4,-3.4),(4.6,-2.5),(3.3,-0.2),(0.9,0.6),(-1.5,1.6),(-3.9,3.8),(-1.5,4.6),(1.0,3.6),(3.4,2.6),(5.6,3.4),(4.0,1.4),(1.5,2.2),(-1.0,0.9),(-3.4,-0.4),(-5.3,-1.9),(-3.1,-3.2),(-0.7,-2.2),(1.8,-3.2),(3.6,-5.6),(1.2,-6.6),(-1.2,-5.5),(-3.6,-6.6),(-5.3,-5.6),(-3.2,-4.0),(-0.8,-3.0),(1.6,-1.8),(4.0,-1.9),(5.9,0.4),(3.6,1.6),(1.1,2.8),(-1.4,3.6),(-3.8,4.9),(-5.6,3.4),(-6.4,1.1),(-4.4,-0.6),(-2.0,0.1),(0.5,-0.9)]

seg_fill1 = [(7.0,1.5),(6.2,2.6),(7.3,3.4),(6.5,4.6),(5.2,4.2),(4.8,5.6),(5.9,6.8),(4.6,7.4),(3.6,6.4),(2.7,7.6),(1.6,6.8),(1.1,8.2),(-0.2,7.5),(-0.9,8.9),(-2.0,7.7),(-3.2,8.6),(-3.6,7.1),(-4.9,7.4),(-5.3,6.0),(-6.7,6.2),(-6.1,4.8),(-7.6,4.5),(-6.6,3.3),(-8.0,2.7),(-7.0,1.7),(-8.4,0.9),(-7.3,0.0),(-8.5,-1.0),(-7.1,-1.6),(-7.9,-2.9),(-6.4,-3.0),(-6.8,-4.4),(-5.4,-4.3),(-5.6,-5.8),(-4.2,-5.4),(-3.9,-6.8),(-2.6,-6.0),(-2.0,-7.3),(-0.9,-6.3),(0.1,-7.5),(0.9,-6.2),(2.1,-7.2),(2.6,-5.8),(3.9,-6.4),(3.9,-4.9),(5.4,-5.2),(5.0,-3.8),(6.6,-3.7),(5.8,-2.5),(7.3,-2.1),(6.2,-1.1),(7.6,-0.5),(6.4,0.4),(7.8,1.2),(5.9,2.1),(5.1,3.2),(5.8,4.3),(4.3,4.7),(4.1,6.0),(2.8,5.4),(2.4,6.7),(1.0,6.0),(0.3,7.2),(-0.9,6.1),(-1.8,7.1),(-2.6,5.9),(-3.9,6.4),(-4.0,5.0),(-5.5,5.0),(-5.0,3.7),(-6.5,3.4),(-5.6,2.3),(-6.9,1.6),(-5.8,0.7),(-7.0,-0.3),(-5.6,-0.8),(-6.5,-2.0),(-5.0,-2.2),(-5.4,-3.6),(-3.9,-3.5),(-3.9,-5.0),(-2.6,-4.4),(-2.1,-5.8),(-1.0,-4.9),(-0.2,-6.1),(0.6,-4.8),(1.8,-5.6),(2.1,-4.2),(3.5,-4.6),(3.4,-3.2),(4.9,-3.1),(4.4,-1.9),(5.9,-1.5),(5.0,-0.5),(6.3,0.2),(5.3,1.0),(6.0,2.0)]

seg_fill2 = [(8.8,2.0),(8.1,3.3),(9.0,4.6),(7.6,5.3),(7.9,6.9),(6.4,7.5),(6.1,9.0),(4.6,8.7),(3.9,10.0),(2.6,9.3),(1.7,10.6),(0.5,9.6),(-0.7,10.6),(-1.6,9.3),(-3.0,10.0),(-3.6,8.6),(-5.1,9.1),(-5.3,7.7),(-6.9,7.7),(-6.8,6.4),(-8.4,6.1),(-7.9,4.9),(-9.6,4.4),(-8.7,3.3),(-10.2,2.6),(-9.0,1.8),(-10.4,0.8),(-9.1,0.1),(-10.3,-1.0),(-8.8,-1.5),(-9.6,-2.8),(-8.1,-3.0),(-8.6,-4.4),(-7.0,-4.4),(-7.3,-5.9),(-5.8,-5.7),(-5.7,-7.2),(-4.3,-6.9),(-3.9,-8.3),(-2.7,-7.6),(-2.0,-8.9),(-0.8,-8.0),(0.3,-9.1),(1.2,-7.9),(2.4,-8.7),(2.9,-7.4),(4.3,-8.0),(4.5,-6.6),(6.0,-6.9),(5.8,-5.5),(7.4,-5.4),(6.8,-4.1),(8.4,-3.7),(7.5,-2.6),(9.0,-2.0),(7.9,-1.0),(9.3,-0.3),(8.1,0.7),(8.8,2.0)]

segments = [seg_tail, seg_core1, seg_top, seg_bottom, seg_right, seg_core2,
            seg_core3, seg_core4, seg_core5, seg_core6, seg_core7, seg_core8,
            seg_core9, seg_core10, seg_core11, seg_core12, seg_core13, seg_outer2,
            seg_ring1, seg_ring2, seg_core14, seg_fill1, seg_fill2]

pitch = [p for seg in segments for p, _ in seg]
yaw = [y for seg in segments for _, y in seg]

fig = go.Figure()
fig.add_trace(go.Scatter(x=pitch, y=yaw, mode="lines",
                         line=dict(color="#0000ff", width=2.3),
                         showlegend=False, hoverinfo="skip"))

fig.add_shape(type="circle", xref="x", yref="y",
              x0=-limit_radius, y0=-limit_radius, x1=limit_radius, y1=limit_radius,
              line=dict(color="#00ee00", width=1.7, dash="6px,3px"), layer="above")

font_family = "Liberation Sans, Arial, Helvetica, sans-serif"
axis_common = dict(range=[-30, 30], tickmode="array", tickvals=tick_values, ticktext=tick_labels,
                   showgrid=False, zeroline=False, automargin=False,
                   showline=True, linecolor="black", linewidth=2, mirror="ticks",
                   ticks="inside", ticklen=6, tickwidth=2, tickcolor="black",
                   tickfont=dict(family=font_family, size=22, color="black"))

fig.update_layout(
    width=818, height=806,
    margin=dict(l=97, r=15, t=20, b=75),
    paper_bgcolor="white", plot_bgcolor="white",
    font=dict(family=font_family, size=22, color="black"),
    xaxis=dict(title=dict(text="pitch pointing error (arcsec)", standoff=12,
                          font=dict(family=font_family, size=22)),
               ticklabelstandoff=6, **axis_common),
    yaxis=dict(title=dict(text="yaw pointing error (arcsec)", standoff=14,
                          font=dict(family=font_family, size=22)),
               ticklabelstandoff=8, **axis_common),
)

page_js = ("document.body.style.margin='0px';document.body.style.padding='0px';"
           "document.querySelectorAll('.xtitle,.ytitle').forEach(function(e){e.style.letterSpacing='2.1px';});"
           "document.querySelectorAll('.xtick text,.ytick text').forEach(function(e){e.style.letterSpacing='0.8px';});")

fig.write_html("out.html", config={"displayModeBar": False}, post_script=page_js)
